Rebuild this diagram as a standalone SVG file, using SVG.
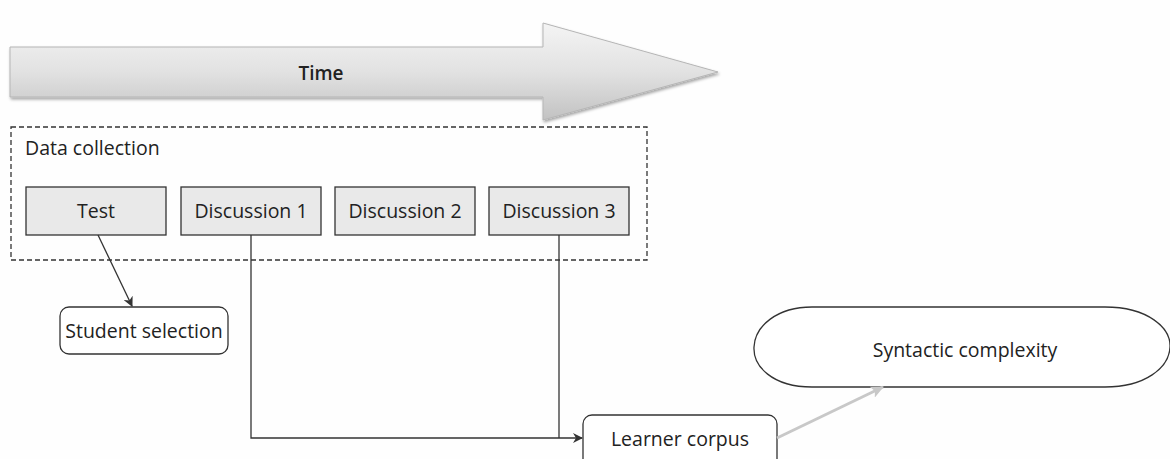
<svg xmlns="http://www.w3.org/2000/svg" width="1170" height="459" viewBox="0 0 1170 459">
<style>
.t{font-family:"Open Sans","Liberation Sans",sans-serif;font-size:19.5px;fill:#222;}
.box{fill:#e9e9e9;stroke:#333;stroke-width:1.3;}
.rnd{fill:#fff;stroke:#333;stroke-width:1.3;}
.ln{fill:none;stroke:#333;stroke-width:1.3;}
</style>
<defs>
<linearGradient id="ag" x1="0" y1="0" x2="0" y2="1">
<stop offset="0" stop-color="#f4f4f4"/>
<stop offset="0.5" stop-color="#e2e2e2"/>
<stop offset="1" stop-color="#c2c2c2"/>
</linearGradient>
<filter id="sh" x="-5%" y="-20%" width="110%" height="140%">
<feDropShadow dx="1" dy="2" stdDeviation="1.5" flood-color="#000" flood-opacity="0.35"/>
</filter>
<marker id="ah" markerWidth="10" markerHeight="10" refX="9" refY="5" orient="auto" markerUnits="userSpaceOnUse">
<path d="M0,0 L10,5 L0,10 L3,5 Z" fill="#333"/>
</marker>
<marker id="ahg" markerWidth="14" markerHeight="12" refX="12" refY="6" orient="auto" markerUnits="userSpaceOnUse">
<path d="M0,0 L13,6 L0,12 L3,6 Z" fill="#c8c8c8"/>
</marker>
</defs>
<rect width="1170" height="459" fill="#fefefe"/>
<g id="time">
<path d="M10,47 L543,47 L543,23 L718,72 L543,120 L543,97 L10,97 Z" fill="url(#ag)" stroke="#b5b5b5" stroke-width="1" filter="url(#sh)"/>
<text x="321" y="80" class="t" text-anchor="middle" style="font-weight:600;font-size:19px">Time</text>
</g>
<g id="data-collection">
<rect x="11" y="127" width="636" height="133" fill="none" stroke="#333" stroke-width="1.3" stroke-dasharray="5,3"/>
<text x="25" y="155" class="t">Data collection</text>
</g>
<g id="test">
<rect class="box" x="26" y="187" width="140" height="48"/>
<text x="96" y="218" class="t" text-anchor="middle">Test</text>
</g>
<g id="discussion1">
<rect class="box" x="181" y="187" width="140" height="48"/>
<text x="251" y="218" class="t" text-anchor="middle">Discussion 1</text>
</g>
<g id="discussion2">
<rect class="box" x="335" y="187" width="140" height="48"/>
<text x="405" y="218" class="t" text-anchor="middle">Discussion 2</text>
</g>
<g id="discussion3">
<rect class="box" x="489" y="187" width="140" height="48"/>
<text x="559" y="218" class="t" text-anchor="middle">Discussion 3</text>
</g>
<g id="student-selection">
<rect class="rnd" x="60" y="307" width="168" height="47" rx="9"/>
<text x="144" y="338" class="t" text-anchor="middle">Student selection</text>
</g>
<g id="learner-corpus">
<rect class="rnd" x="583" y="415" width="194" height="60" rx="9"/>
<text x="680" y="446" class="t" text-anchor="middle">Learner corpus</text>
</g>
<g id="syntactic-complexity">
<path class="rnd" d="M812,307 L1105,307 C1148,307 1171,328 1170,347 C1169,368 1145,387 1105,387 L812,387 C772,387 753,366 754,347 C755,326 777,307 812,307 Z"/>
<text x="965" y="357" class="t" text-anchor="middle">Syntactic complexity</text>
</g>
<g id="connectors">
<path class="ln" d="M98,235 L132,306" marker-end="url(#ah)"/>
<path class="ln" d="M251,235 L251,438 L582,438" marker-end="url(#ah)"/>
<path class="ln" d="M559,235 L559,438"/>
<path d="M777,438 L883,387" fill="none" stroke="#c8c8c8" stroke-width="3" marker-end="url(#ahg)"/>
</g>
</svg>
